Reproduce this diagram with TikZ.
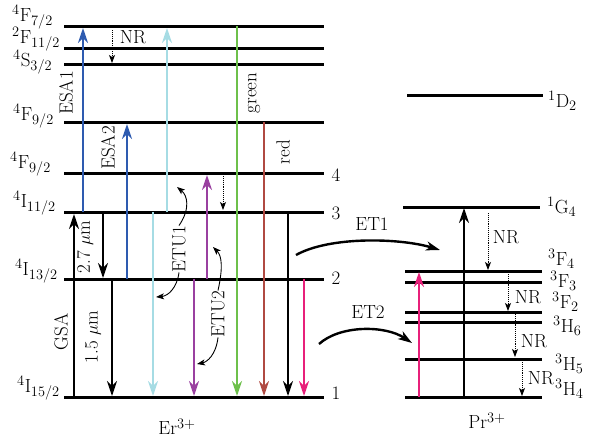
\documentclass[tikz,border=0pt]{standalone}
\usetikzlibrary{arrows.meta}
\definecolor{esa}{HTML}{2E5BB0}
\definecolor{lblue}{HTML}{A6DCE4}
\definecolor{purp}{HTML}{9A40A0}
\definecolor{grn}{HTML}{6DC04B}
\definecolor{redb}{HTML}{B04A42}
\definecolor{pnk}{HTML}{E8207A}
\begin{document}
\begin{tikzpicture}[x=1pt,y=-1pt,
  every node/.style={font=\fontsize{19}{22}\selectfont, inner sep=0pt},
  lvl/.style={line width=3pt},
  tr/.style={line width=2pt, -{Stealth[length=15pt,width=10pt,inset=5pt]}},
  thintr/.style={line width=1.6pt, -{Stealth[length=15pt,width=10pt,inset=5pt]}},
  nr/.style={densely dotted, line width=0.9pt, -{Stealth[length=8pt,width=6pt,inset=2pt]}},
  etu/.style={line width=0.9pt, -{Stealth[length=8pt,width=6pt,inset=2pt]}},
  et/.style={line width=2.4pt, -{Stealth[length=14pt,width=9pt,inset=4pt]}},
  lev/.style={anchor=base west},
  vlab/.style={rotate=90}]
\useasboundingbox (0,0) rectangle (590,445);

% ---------- Er3+ levels ----------
\coordinate (E8) at (0,26);  \coordinate (E7) at (0,48);
\coordinate (E6) at (0,64);  \coordinate (E5) at (0,122);
\coordinate (E4) at (0,173); \coordinate (E3) at (0,212);
\coordinate (E2) at (0,279); \coordinate (E1) at (0,397);
\foreach \c in {E8,E7,E6,E5,E4,E3,E2,E1}
  \draw[lvl] (64,0 |- \c) -- (324,0 |- \c);

\node[lev] (l8) at (12,21)  {$^{4}$F$_{7/2}$};
\node[lev] (l7) at (12,43)  {$^{2}$F$_{11/2}$};
\node[lev] (l6) at (13,66)  {$^{4}$S$_{3/2}$};
\node[lev] (l5) at (13,120) {$^{4}$F$_{9/2}$};
\node[lev] (l4) at (10,168) {$^{4}$F$_{9/2}$};
\node[lev] (l3) at (13,207) {$^{4}$I$_{11/2}$};
\node[lev] (l2) at (15,275) {$^{4}$I$_{13/2}$};
\node[lev] (l1) at (17,392) {$^{4}$I$_{15/2}$};

\node (n4) at (336,175) {4};
\node (n3) at (336,213) {3};
\node (n2) at (336,278) {2};
\node (n1) at (336,393) {1};

% ---------- Pr3+ levels ----------
\draw[lvl] (407,95) -- (543,95);
\draw[lvl] (403,207) -- (540,207);
\foreach \y in {271,282,312,322,359,397}
  \draw[lvl] (405,\y) -- (542,\y);

\node[lev] (p1) at (548,107) {$^{1}$D$_{2}$};
\node[lev] (p2) at (547,213) {$^{1}$G$_{4}$};
\node[lev] (p3) at (548,265) {$^{3}$F$_{4}$};
\node[lev] (p4) at (550,287) {$^{3}$F$_{3}$};
\node[lev] (p5) at (552,308) {$^{3}$F$_{2}$};
\node[lev] (p6) at (553,332) {$^{3}$H$_{6}$};
\node[lev] (p7) at (555,370) {$^{3}$H$_{5}$};
\node[lev] (p8) at (555,395) {$^{3}$H$_{4}$};

% ---------- Er3+ transitions ----------
\draw[thintr] (74,397) -- (74,214);
\draw[thintr] (103,212) -- (103,278);
\draw[thintr] (112,279) -- (112,396);
\draw[tr, esa] (83,212) -- (83,28);
\draw[tr, esa] (127,279) -- (127,124);
\draw[tr, lblue] (167,212) -- (167,28);
\draw[tr, lblue] (153,212) -- (153,396);
\draw[tr, purp] (207,279) -- (207,175);
\draw[tr, purp] (194,279) -- (194,396);
\draw[tr, grn] (237,26) -- (237,396);
\draw[tr, redb] (264,122) -- (264,396);
\draw[thintr] (288,212) -- (288,396);
\draw[tr, pnk] (304,279) -- (304,396);

\draw[nr] (112,30) -- (112,63);
\draw[nr] (223,176) -- (223,210);

\node[vlab] (gsa)  at (61,332)  {GSA};
\node[vlab] (m27)  at (85,247)  {2.7 $\mu$m};
\node[vlab] (m15)  at (93,337)  {1.5 $\mu$m};
\node[vlab] (esa1) at (66,93)   {ESA1};
\node[vlab] (esa2) at (108,148) {ESA2};
\node[vlab] (gr)   at (254,93)  {green};
\node[vlab] (rd)   at (283,152) {red};
\node[vlab] (etu1) at (179,249) {ETU1};
\node[vlab] (etu2) at (218,314) {ETU2};
\node (nr0) at (133,37) {NR};

\coordinate (u1a) at (177,187);
\coordinate (u1b) at (156,297);
\coordinate (u2a) at (213,247);
\coordinate (u2b) at (197,364);
\draw[etu] (etu1.east) .. controls (191,208) and (187,195) .. (u1a);
\draw[etu] (etu1.west) .. controls (177,288) and (168,296) .. (u1b);
\draw[etu] (etu2.east) .. controls (223,268) and (222,256) .. (u2a);
\draw[etu] (etu2.west) .. controls (216,355) and (207,362) .. (u2b);

\node (er) at (177,427) {Er$^{3+}$};

% ---------- Pr3+ transitions ----------
\draw[thintr, line width=1.8pt] (464,397) -- (464,208);
\draw[tr, pnk] (419,397) -- (419,272);
\draw[nr] (488,213) -- (488,270);
\draw[nr] (508,274) -- (508,311);
\draw[nr] (515,314) -- (515,357);
\draw[nr] (522,362) -- (522,396);
\node (nr1) at (506,237) {NR};
\node (nr2) at (528,297) {NR};
\node (nr3) at (534,341) {NR};
\node (nr4) at (541,378) {NR};
\node (pr) at (487,421) {Pr$^{3+}$};

% ---------- energy transfer ----------
\coordinate (a1) at (296,255); \coordinate (b1) at (440,250);
\coordinate (a2) at (319,344); \coordinate (b2) at (412,343);
\draw[et] (a1) .. controls (330,236) and (400,238) .. (b1);
\draw[et] (a2) .. controls (340,325) and (385,325) .. (b2);
\node (et1) at (372,224) {ET1};
\node (et2) at (368,312) {ET2};
\end{tikzpicture}
\end{document}
